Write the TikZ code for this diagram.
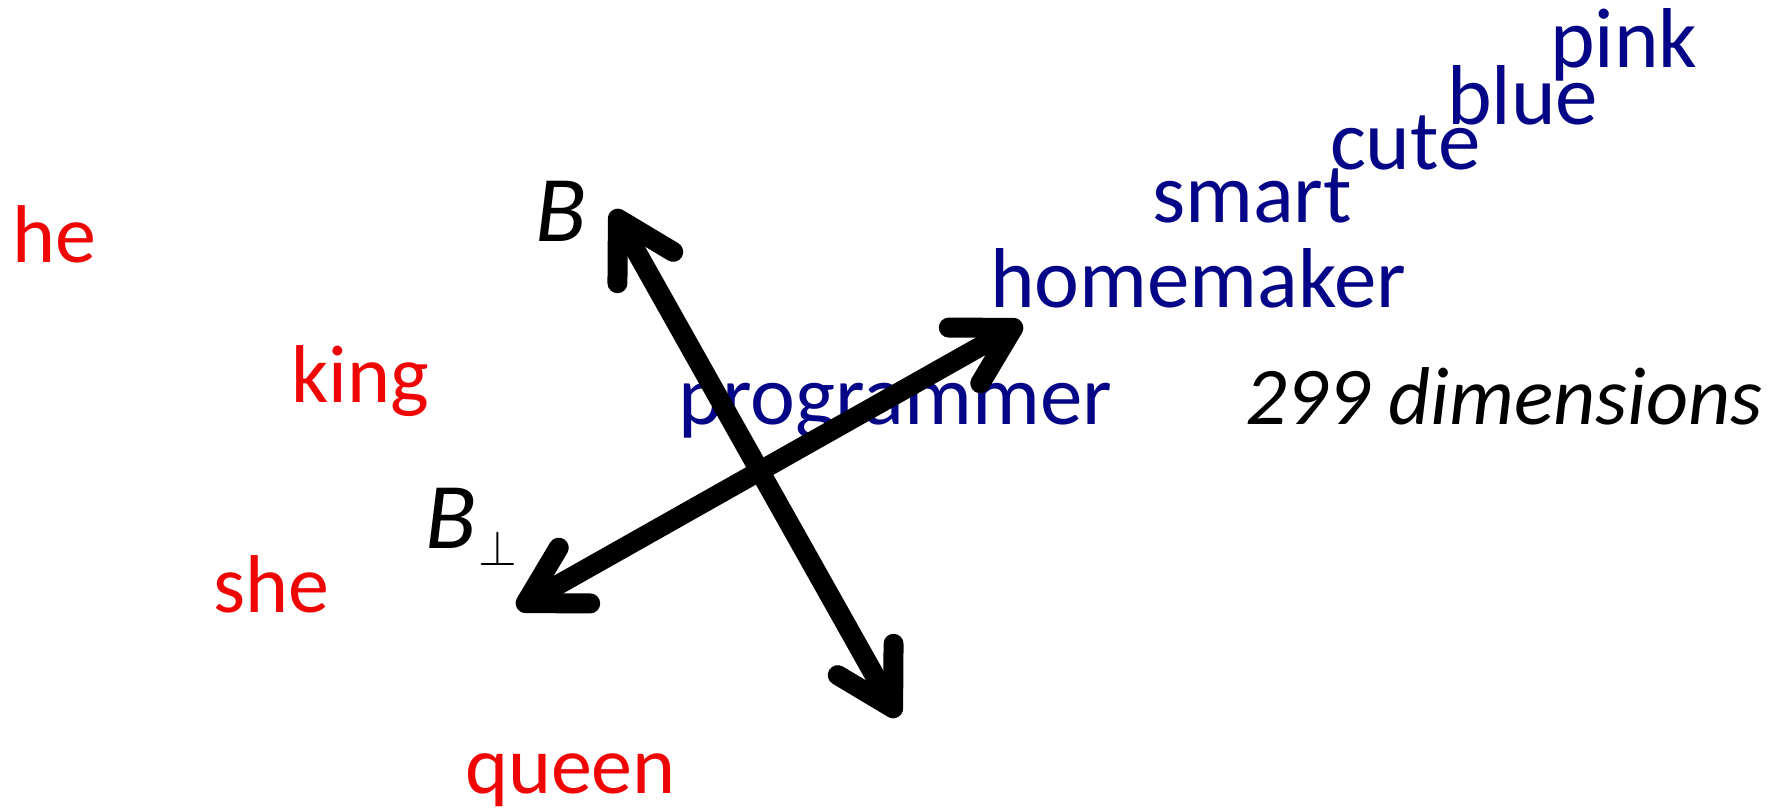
\documentclass[tikz,border=0pt]{standalone}
\usepackage{fontspec}
\setmainfont{Carlito}
\usetikzlibrary{arrows.meta}
\definecolor{wred}{RGB}{240,5,5}
\definecolor{wblue}{RGB}{5,5,135}
\begin{document}
\begin{tikzpicture}[x=0.5pt,y=-0.5pt,
  word/.style={anchor=base west,inner sep=0pt,outer sep=0pt,font=\fontsize{41}{49}\selectfont},
  redword/.style={word,text=wred},
  blueword/.style={word,text=wblue,font=\fontsize{42.5}{51}\selectfont},
  blabel/.style={anchor=base west,inner sep=0pt,outer sep=0pt,font=\fontsize{47}{56}\selectfont\itshape},
  perplabel/.style={anchor=base west,inner sep=0pt,outer sep=0pt,font=\fontsize{37}{44}\selectfont},
  axisarrow/.style={line width=10pt,line cap=round,line join=round,
    {Straight Barb[length=28pt,width=32pt,round]}-{Straight Barb[length=28pt,width=32pt,round]}}]
\useasboundingbox (0,0) rectangle (1778,812);
% red words
\node[redword] (he) at (12,263) {he};
\node[redword] (king) at (291,403) {king};
\node[redword] (she) at (213,612) {she};
\node[redword] (queen) at (465,793) {queen};
% blue words
\node[blueword] (programmer) at (678,425) {programmer};
\node[blueword] (homemaker) at (990,308) {homemaker};
\node[blueword] (smart) at (1152,223) {smart};
\node[blueword] (cute) at (1330,170) {cute};
\node[blueword] (blue) at (1447,125) {blue};
\node[blueword] (pink) at (1550,68) {pink};
% dimensions
\node[word,font=\fontsize{41}{49}\selectfont\itshape] (dims) at (1245,425) {299 dimensions};
% axis labels
\node[blabel] (B) at (535,242) {B};
\node[blabel] (Bp) at (425,548) {B};
\node[perplabel] (perp) at (478,566) {$\perp$};
% axes
\coordinate (Btop) at (613,210);
\coordinate (Bbot) at (898,717);
\coordinate (Pright) at (1022,323);
\coordinate (Pleft) at (517,608);
\draw[axisarrow] (Btop) -- (Bbot);
\draw[axisarrow] (Pleft) -- (Pright);
\end{tikzpicture}
\end{document}
